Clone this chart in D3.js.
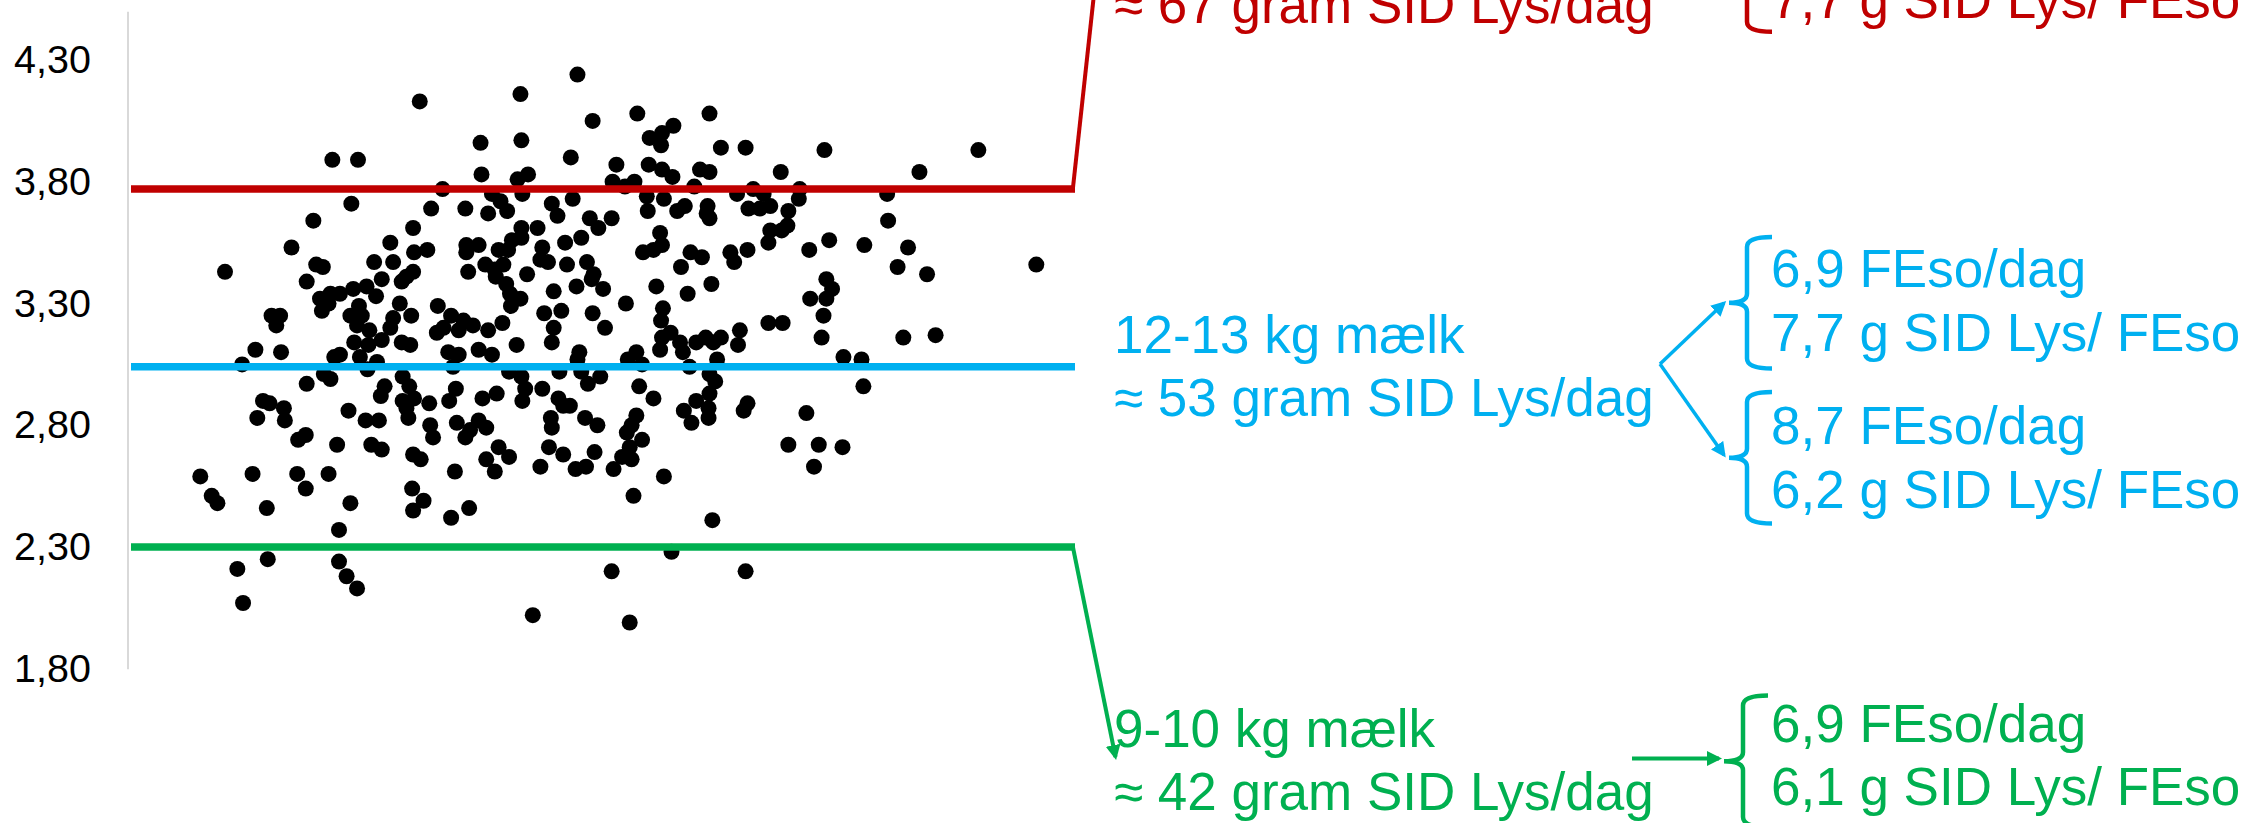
<!DOCTYPE html>
<html>
<head>
<meta charset="utf-8">
<script src="https://cdn.jsdelivr.net/npm/d3@7"></script>
<style>
    body { margin: 0; background: #fff; }
    svg { display: block; font-family: "Liberation Sans", Arial, sans-serif; }
</style>
</head>
<body>
<svg id="chart" width="2252" height="823"></svg>
<script>
// y axis
var yTicks = [1.8, 2.3, 2.8, 3.3, 3.8, 4.3];

// horizontal reference levels (top / middle / bottom)
var levelValues = [3.77, 3.04, 2.30];
var levelColors = ["#C00000", "#00B0F0", "#00B050"];

// scatter: [x position (0-100), y value]
var sows = [
 [30.5,4.13],[41.1,4.16],[47.1,4.24],[48.7,4.05],[41.2,3.97],[36.9,3.96],[46.4,3.90],[21.3,3.89],[24.0,3.89],[37.0,3.83],
 [41.9,3.83],[40.8,3.81],[32.9,3.77],[41.3,3.75],[38.1,3.75],[39.0,3.72],[44.4,3.71],[46.6,3.73],[23.3,3.71],[31.7,3.69],
 [35.3,3.69],[37.7,3.67],[39.7,3.68],[45.0,3.66],[48.4,3.65],[49.3,3.61],[19.3,3.64],[29.8,3.61],[41.2,3.61],[42.9,3.61],
 [40.2,3.56],[41.2,3.57],[47.5,3.57],[45.8,3.55],[17.0,3.53],[27.4,3.55],[29.9,3.51],[31.3,3.52],[35.4,3.54],[36.7,3.54],
 [35.4,3.51],[38.8,3.52],[39.8,3.52],[43.4,3.53],[43.2,3.48],[44.0,3.47],[10.0,3.43],[19.6,3.46],[20.3,3.45],[25.7,3.47],
 [27.7,3.47],[37.4,3.46],[39.3,3.46],[35.6,3.43],[38.4,3.44],[41.8,3.42],[46.0,3.46],[48.1,3.47],[48.8,3.42],[48.6,3.40],
 [29.8,3.43],[29.1,3.41],[28.6,3.39],[26.5,3.40],[18.6,3.39],[38.5,3.41],[39.6,3.38],[47.0,3.37],[49.8,3.36],[44.6,3.35],
 [23.5,3.36],[24.9,3.37],[25.9,3.33],[21.1,3.34],[22.1,3.34],[20.0,3.32],[20.9,3.30],[20.2,3.27],[40.0,3.34],[41.1,3.32],
 [40.1,3.29],[28.4,3.30],[32.4,3.29],[14.9,3.25],[15.8,3.25],[15.4,3.21],[24.1,3.29],[23.2,3.25],[24.4,3.25],[23.9,3.21],
 [27.7,3.24],[27.4,3.20],[29.6,3.25],[33.8,3.25],[35.1,3.23],[36.1,3.21],[33.0,3.20],[32.3,3.18],[34.6,3.19],[37.7,3.19],
 [39.2,3.22],[43.6,3.26],[45.4,3.27],[44.6,3.20],[48.7,3.26],[50.0,3.20],[25.2,3.19],[26.5,3.15],[23.6,3.14],[25.1,3.13],
 [28.6,3.14],[29.5,3.13],[40.7,3.13],[44.4,3.14],
 [53.4,4.08],[61.0,4.08],[57.2,4.03],[56.0,4.00],[54.7,3.98],[55.9,3.95],[62.2,3.94],[64.8,3.94],[73.1,3.93],[89.3,3.93],
 [51.2,3.87],[54.6,3.87],[56.0,3.85],[57.1,3.82],[60.0,3.85],[61.0,3.84],[68.5,3.84],[83.1,3.84],[50.8,3.80],[53.1,3.80],
 [52.1,3.78],[59.4,3.78],[65.6,3.77],[70.5,3.77],[54.4,3.74],[56.2,3.73],[63.9,3.75],[66.7,3.75],[79.7,3.75],[70.4,3.73],
 [54.5,3.68],[57.6,3.68],[58.4,3.70],[60.8,3.70],[60.7,3.67],[61.0,3.65],[65.1,3.69],[66.3,3.69],[67.4,3.70],[69.3,3.68],
 [50.7,3.65],[79.8,3.64],[67.4,3.60],[68.6,3.60],[69.2,3.62],[55.8,3.59],[56.0,3.54],[55.1,3.52],[54.0,3.51],[59.0,3.51],
 [60.2,3.49],[63.2,3.51],[63.6,3.47],[65.0,3.52],[67.2,3.55],[71.5,3.52],[73.6,3.56],[77.3,3.54],[81.9,3.53],[80.8,3.45],
 [83.9,3.42],[95.4,3.46],[58.0,3.45],[55.4,3.37],[58.7,3.34],[61.2,3.38],[52.2,3.30],[73.3,3.40],[73.9,3.36],[71.6,3.32],
 [73.3,3.32],[56.1,3.28],[55.9,3.23],[73.0,3.25],[67.2,3.22],[68.7,3.22],[64.2,3.19],[56.0,3.16],[56.9,3.18],[57.9,3.14],
 [59.6,3.14],[60.6,3.16],[62.2,3.16],[61.4,3.14],[64.0,3.13],[72.8,3.16],[81.4,3.16],[84.8,3.17],
 [53.3,3.10],[52.4,3.07],[53.9,3.05],[55.8,3.11],[58.2,3.10],[58.9,3.04],[61.8,3.07],[75.1,3.08],[77.0,3.07],[53.6,2.96],
 [55.1,2.91],[61.0,3.01],[61.6,2.98],[61.0,2.93],[59.6,2.90],[58.3,2.86],[59.1,2.81],[60.9,2.87],[60.9,2.83],[64.6,2.86],
 [65.0,2.89],[53.3,2.84],[52.8,2.80],[52.3,2.77],[53.9,2.74],[52.6,2.71],[52.8,2.66],[51.8,2.67],[50.9,2.62],[56.2,2.59],
 [53.0,2.51],[61.3,2.41],[77.2,2.96],[71.2,2.85],[69.3,2.72],[72.5,2.72],[75.0,2.71],[72.0,2.63],[57.0,2.28],[50.7,2.20],
 [64.8,2.20],[52.6,1.99],
 [13.2,3.11],[15.9,3.10],[11.8,3.05],[21.5,3.08],[22.1,3.09],[24.2,3.08],[26.0,3.06],[25.0,3.03],[33.5,3.10],[34.6,3.09],
 [34.0,3.04],[36.7,3.11],[38.1,3.09],[47.3,3.10],[47.1,3.07],[49.5,3.00],[20.4,3.01],[21.1,2.99],[18.6,2.97],[28.7,3.00],
 [29.4,2.96],[26.8,2.96],[26.4,2.92],[28.7,2.90],[29.9,2.91],[29.1,2.87],[29.3,2.83],[31.5,2.89],[34.3,2.95],[33.6,2.90],
 [39.9,3.02],[41.2,3.00],[41.6,2.95],[41.3,2.90],[43.4,2.95],[45.2,3.02],[47.5,3.02],[48.2,2.97],[45.1,2.91],[45.6,2.88],
 [46.3,2.88],[44.3,2.83],[44.4,2.79],[47.9,2.83],[49.2,2.80],[38.6,2.93],[37.1,2.91],[14.0,2.90],[14.7,2.89],[16.2,2.87],
 [16.3,2.82],[13.4,2.83],[23.0,2.86],[24.8,2.82],[26.2,2.82],[18.5,2.76],[17.7,2.74],[21.8,2.72],[25.4,2.72],[26.5,2.70],
 [31.6,2.80],[31.9,2.75],[34.4,2.81],[36.7,2.82],[37.5,2.79],[35.8,2.78],[35.3,2.75],[38.8,2.71],[39.9,2.67],[37.5,2.66],
 [38.4,2.61],[44.1,2.71],[45.6,2.68],[48.9,2.69],[43.2,2.63],[46.9,2.62],[48.0,2.63],[29.8,2.68],[30.6,2.66],[34.2,2.61],
 [7.4,2.59],[12.9,2.60],[17.6,2.60],[20.9,2.60],[8.6,2.51],[9.2,2.48],[14.4,2.46],[18.5,2.54],[23.2,2.48],[29.7,2.54],
 [30.9,2.49],[29.8,2.45],[35.7,2.46],[33.8,2.42],[22.0,2.37],[14.5,2.25],[11.3,2.21],[22.0,2.24],[22.8,2.18],[23.9,2.13],
 [11.9,2.07],[42.4,2.02]
];

// annotation texts
var highLabel = ["≈ 67 gram SID Lys/dag"];
var midLabel  = ["12-13 kg mælk", "≈ 53 gram SID Lys/dag"];
var lowLabel  = ["9-10 kg mælk", "≈ 42 gram SID Lys/dag"];
var highFeed  = ["7,7 g SID Lys/ FEso"];
var midFeedA  = ["6,9 FEso/dag", "7,7 g SID Lys/ FEso"];
var midFeedB  = ["8,7 FEso/dag", "6,2 g SID Lys/ FEso"];
var lowFeed   = ["6,9 FEso/dag", "6,1 g SID Lys/ FEso"];

var svg = d3.select("#chart");
var x = d3.scaleLinear().domain([0, 100]).range([130, 1080]);
var y = d3.scaleLinear().domain([1.8, 4.5]).range([668.75, 11.3]);

svg.append("rect").attr("width", 2252).attr("height", 823).attr("fill", "#fff");

// axis
var axis = svg.append("g")
    .attr("transform", "translate(127.5,0)")
    .call(d3.axisLeft(y).tickValues(yTicks).tickSize(0).tickPadding(36.5)
        .tickFormat(function (d) { return d3.format(".2f")(d).replace(".", ","); }));
axis.select(".domain").attr("stroke", "#D9D9D9").attr("stroke-width", 2);
axis.selectAll("text")
    .attr("font-size", 39.5).attr("font-family", "Liberation Sans, Arial, sans-serif").attr("fill", "#000");

// points
svg.append("g").selectAll("circle").data(sows).enter().append("circle")
    .attr("cx", function (d) { return x(d[0]); })
    .attr("cy", function (d) { return y(d[1]); })
    .attr("r", 8)
    .attr("fill", "#000");

// arrow markers
var defs = svg.append("defs");
levelColors.forEach(function (c, i) {
    defs.append("marker").attr("id", "arrow" + i)
        .attr("markerUnits", "userSpaceOnUse")
        .attr("markerWidth", 15).attr("markerHeight", 15)
        .attr("refX", 12).attr("refY", 7.5).attr("orient", "auto")
        .append("path").attr("d", "M0,0 L15,7.5 L0,15 Z").attr("fill", c);
});

// reference lines
var lineEnd = 1075;
svg.append("g").selectAll("line").data(levelValues).enter().append("line")
    .attr("x1", 131).attr("x2", lineEnd)
    .attr("y1", function (d) { return y(d); })
    .attr("y2", function (d) { return y(d); })
    .attr("stroke", function (d, i) { return levelColors[i]; })
    .attr("stroke-width", 7.5);

// connectors
var yR = y(levelValues[0]), yG = y(levelValues[2]);
svg.append("path").attr("d", "M1072.5," + (yR + 3) + " L1093.8,-4")
    .attr("stroke", levelColors[0]).attr("stroke-width", 4).attr("fill", "none");
svg.append("path").attr("d", "M1072.5," + (yG - 2) + " L1115.5,757")
    .attr("stroke", levelColors[2]).attr("stroke-width", 4).attr("fill", "none")
    .attr("marker-end", "url(#arrow2)");
svg.append("path").attr("d", "M1660,364 L1724,303")
    .attr("stroke", levelColors[1]).attr("stroke-width", 3.5).attr("fill", "none")
    .attr("marker-end", "url(#arrow1)");
svg.append("path").attr("d", "M1660,364 L1724,455")
    .attr("stroke", levelColors[1]).attr("stroke-width", 3.5).attr("fill", "none")
    .attr("marker-end", "url(#arrow1)");
svg.append("path").attr("d", "M1632,758.5 L1719,758.5")
    .attr("stroke", levelColors[2]).attr("stroke-width", 4).attr("fill", "none")
    .attr("marker-end", "url(#arrow2)");

// braces
function brace(vx, top, bottom, cx, hx) {
    var mid = (top + bottom) / 2, r = 10, r2 = 9;
    return "M" + hx + "," + top +
        " Q" + vx + "," + top + " " + vx + "," + (top + r) +
        " L" + vx + "," + (mid - r2) +
        " Q" + vx + "," + mid + " " + cx + "," + mid +
        " Q" + vx + "," + mid + " " + vx + "," + (mid + r2) +
        " L" + vx + "," + (bottom - r) +
        " Q" + vx + "," + bottom + " " + hx + "," + bottom;
}
var braces = [
    [1747, -99.8, 31.7, 1729, 1772, 0],
    [1747, 237, 368.5, 1729, 1772, 1],
    [1747, 392, 523.5, 1729, 1772, 1],
    [1743, 695.5, 827, 1724, 1768, 2]
];
svg.append("g").selectAll("path").data(braces).enter().append("path")
    .attr("d", function (b) { return brace(b[0], b[1], b[2], b[3], b[4]); })
    .attr("fill", "none").attr("stroke-width", 4.5)
    .attr("stroke", function (b) { return levelColors[b[5]]; });

// text blocks
function textBlock(lines, tx, ty, color) {
    svg.append("g").selectAll("text").data(lines).enter().append("text")
        .attr("x", tx)
        .attr("y", function (d, i) { return ty + i * 63.5; })
        .attr("font-size", 53)
        .attr("fill", color)
        .text(function (d) { return d; });
}
textBlock(highLabel, 1114, 22.7, levelColors[0]);
textBlock(midLabel, 1114, 352.7, levelColors[1]);
textBlock(lowLabel, 1114, 746.7, levelColors[2]);
textBlock(highFeed, 1771, 18.3, levelColors[0]);
textBlock(midFeedA, 1771, 287.3, levelColors[1]);
textBlock(midFeedB, 1771, 444.3, levelColors[1]);
textBlock(lowFeed, 1771, 741.5, levelColors[2]);
</script>
</body>
</html>
